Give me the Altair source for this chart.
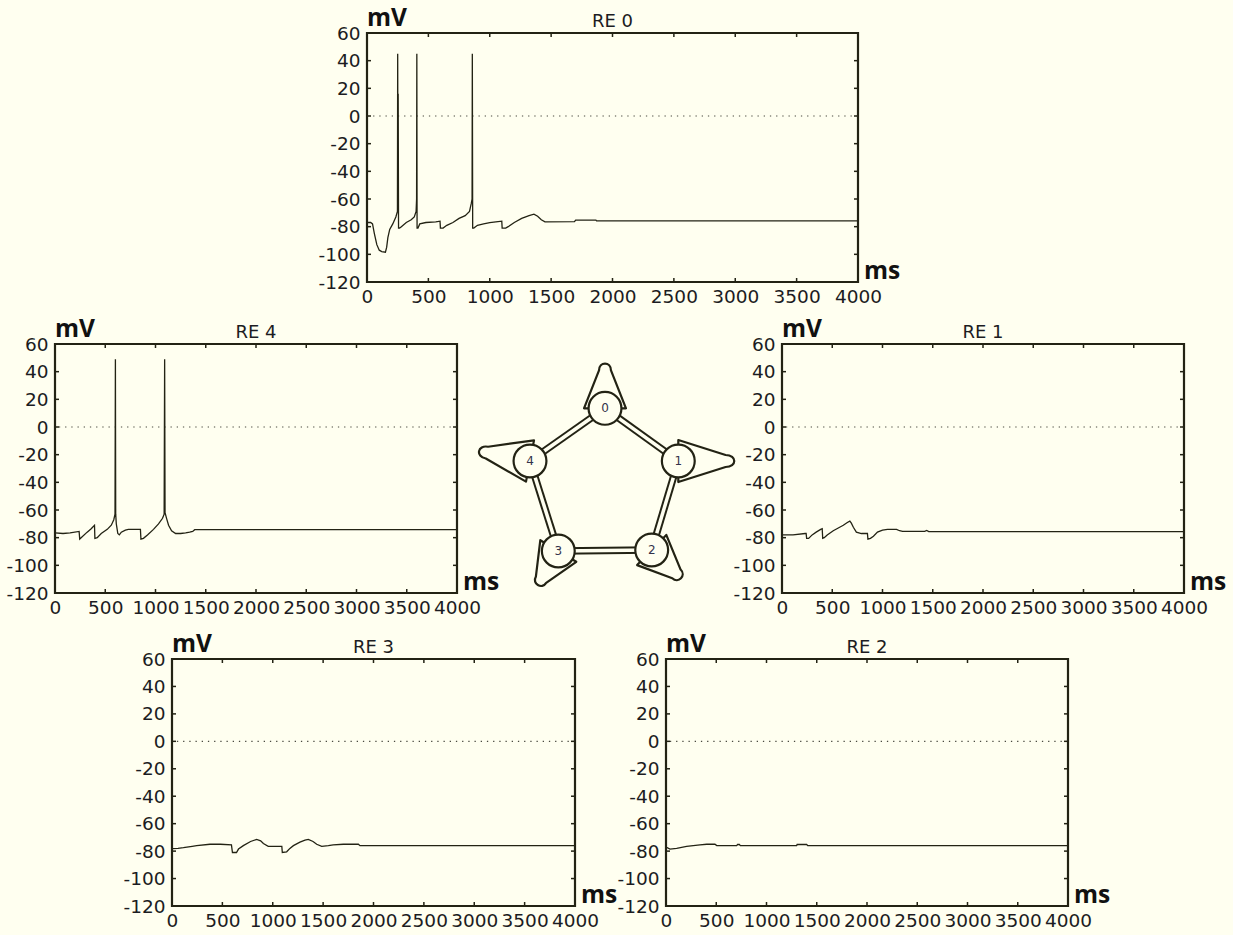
import altair as alt
import pandas as pd

BG = "#FFFFF0"
INK = "#232314"
TXT = "#1c1c22"

X_TICKS = [0, 500, 1000, 1500, 2000, 2500, 3000, 3500, 4000]
Y_TICKS = [60, 40, 20, 0, -20, -40, -60, -80, -100, -120]
Y_UNIT = "mV"
X_UNIT = "ms"

# ---- traces (time ms, membrane potential mV) ----
re0_t = [0, 30, 45, 60, 80, 100, 120, 150, 160, 170, 185, 210, 235, 248, 250, 252, 254, 257,
         265, 280, 320, 360, 385, 400, 404, 406, 408, 415, 430, 480, 560, 595, 598, 620, 650,
         700, 750, 800, 835, 850, 856, 858, 861, 870, 900, 950, 1000, 1050, 1098, 1101, 1130,
         1150, 1200, 1260, 1320, 1360, 1390, 1420, 1450, 1690, 1700, 1865, 1870, 4000]
re0_v = [-77, -77, -78, -85, -93, -97, -98, -98.5, -95, -88, -82, -78, -73, -69, 45, -40, 16, -81,
         -81, -80, -77, -75, -73, -69, -60, 45, -81, -81, -78, -77, -76.5, -76, -81, -81, -79,
         -77, -74, -72, -69, -63, -60, 45, -81, -81, -79, -78, -77, -76.5, -76, -81, -81,
         -80, -77, -74, -72, -71, -72.5, -75, -76.5, -76.4, -75.3, -75.3, -75.8, -75.8]

re4_t = [0, 80, 150, 240, 246, 260, 320, 360, 393, 397, 420, 460, 520, 560, 585, 597, 601, 604,
         610, 625, 640, 660, 700, 730, 850, 855, 880, 920, 980, 1030, 1070, 1086, 1091, 1095,
         1110, 1130, 1160, 1200, 1250, 1300, 1340, 1370, 1390, 4000]
re4_v = [-76.5, -77, -76.5, -75.5, -81, -80, -76, -73.5, -71, -80.5, -80, -77, -74, -71, -67, -63, 49, -63,
         -70, -77, -78, -76, -74.5, -74, -74, -81, -80.5, -78, -74, -70, -66, -63, 49, -62,
         -66, -71, -75, -77, -77, -76.5, -76, -75.5, -74.2, -74.2]

re1_t = [0, 110, 230, 240, 245, 265, 300, 340, 385, 400, 405, 420, 450, 510, 560, 610, 650, 675,
         690, 710, 740, 790, 850, 855, 880, 910, 950, 1000, 1050, 1140, 1170, 1200, 1420, 1440,
         1460, 4000]
re1_v = [-78, -78, -77, -77, -80.5, -80.5, -78, -76, -74, -73.5, -80.5, -80, -78, -75, -73, -71, -69, -68,
         -69.5, -72.5, -76, -77, -77, -81, -80.5, -79, -76, -74.5, -74, -74, -75, -75.5, -75.5, -74.8,
         -75.6, -75.6]

re3_t = [0, 60, 113, 200, 245, 377, 480, 590, 600, 640, 660, 708, 780, 840, 880, 907, 955, 1072,
         1090, 1095, 1138, 1170, 1205, 1270, 1320, 1353, 1400, 1436, 1486, 1552, 1600, 1700, 1850,
         1866, 4000]
re3_v = [-78.2, -78, -77.5, -76.5, -76, -75, -75, -75.5, -81, -81, -78.5, -76, -73, -71.5, -72.5, -74.5, -76.5, -76.5,
         -76.5, -81, -80.5, -78, -76, -73.5, -72, -71.5, -73, -75, -76.5, -76, -75.5, -75, -75,
         -76, -76]

re2_t = [0, 40, 106, 205, 338, 405, 487, 505, 703, 712, 730, 740, 1300, 1305, 1400, 1410, 4000]
re2_v = [-77, -78.5, -78, -76.5, -75.5, -75, -75, -76, -76, -75.2, -75.2, -76, -76, -75.2, -75.2, -76, -76]

PANEL_NAMES = ["RE 0", "RE 1", "RE 2", "RE 3", "RE 4"]

# ---- network diagram (pixel-like units inside its own frame) ----
node_ids = ["0", "1", "2", "3", "4"]
node_x = [148, 221.3, 194.7, 101.3, 73]
node_y = [64.3, 117, 206, 207, 117]
loop_angle = [0, 90, 134, 211, 281]
loop_len = [44, 55, 40, 39, 51]
edge_pairs = [(0, 1), (1, 2), (2, 3), (3, 4), (4, 0)]

LABEL_FONT = "DejaVu Sans"
BOLD_FONT = "Open Sans"
LABEL_SIZE = 18.5
UNIT_SIZE = 24.5


def loop_path(L, base=21.0, tip=6.0):
    """Self-loop drawn as a narrow wedge: wide at the node, rounded tip at distance L."""
    b = base / L
    c = tip / L
    return (f"M{-b:.3f},0 L{-c:.3f},-0.86 C{-c:.3f},-1.07 {c:.3f},-1.07 {c:.3f},-0.86 "
            f"L{b:.3f},0 Z")


def panel(name, t, v, w, h):
    xaxis = alt.Axis(values=X_TICKS, title=None, ticks=False, tickSize=0, domain=False, grid=False,
                     labelFont=LABEL_FONT, labelFontSize=LABEL_SIZE, labelColor=TXT, labelPadding=5,
                     labelFlush=False, labelOverlap=False, labelExpr="'' + datum.value")
    yaxis = alt.Axis(values=Y_TICKS, title=None, ticks=False, tickSize=0, domain=False, grid=False,
                     labelFont=LABEL_FONT, labelFontSize=LABEL_SIZE, labelColor=TXT, labelPadding=7,
                     labelOverlap=False, labelExpr="'' + datum.value")
    X = alt.X("t:Q", scale=alt.Scale(domain=[0, 4000], nice=False, zero=False), axis=xaxis)
    Y = alt.Y("v:Q", scale=alt.Scale(domain=[-120, 60], nice=False, zero=False), axis=yaxis)

    df = pd.DataFrame({"t": t, "v": v})
    line = alt.Chart(df).mark_line(color=INK, strokeWidth=1.3, clip=True).encode(x=X, y=Y)

    zero = alt.Chart(pd.DataFrame({"v": [0]})).mark_rule(
        color="#4a4a40", strokeWidth=1.2, strokeDash=[1.3, 4.9]).encode(y=Y)

    xt = pd.DataFrame({"t": X_TICKS[1:-1]})
    yt = pd.DataFrame({"v": Y_TICKS[1:-1]})
    tick_top = alt.Chart(xt).mark_rule(color=INK, strokeWidth=1.5).encode(
        x=X, y=alt.value(0), y2=alt.value(4))
    tick_bot = alt.Chart(xt).mark_rule(color=INK, strokeWidth=1.5).encode(
        x=X, y=alt.value(h), y2=alt.value(h - 4))
    tick_left = alt.Chart(yt).mark_rule(color=INK, strokeWidth=1.5).encode(
        y=Y, x=alt.value(0), x2=alt.value(4))
    tick_right = alt.Chart(yt).mark_rule(color=INK, strokeWidth=1.5).encode(
        y=Y, x=alt.value(w - 4), x2=alt.value(w))

    title = alt.Chart(pd.DataFrame({"s": [name]})).mark_text(
        align="center", baseline="alphabetic", font=LABEL_FONT, fontSize=18, color=TXT).encode(
        text="s:N", x=alt.value(w / 2), y=alt.value(-6))
    yunit = alt.Chart(pd.DataFrame({"s": [Y_UNIT]})).mark_text(
        align="left", baseline="alphabetic", font=BOLD_FONT, fontWeight="bold", fontSize=UNIT_SIZE,
        color="#111111").encode(text="s:N", x=alt.value(0), y=alt.value(-7))
    xunit = alt.Chart(pd.DataFrame({"s": [X_UNIT]})).mark_text(
        align="left", baseline="alphabetic", font=BOLD_FONT, fontWeight="bold", fontSize=UNIT_SIZE,
        color="#111111").encode(text="s:N", x=alt.value(w + 6), y=alt.value(h - 3))

    return alt.layer(zero, tick_top, tick_bot, tick_left, tick_right, line, title, yunit, xunit
                     ).properties(width=w, height=h)


def spacer(w, h):
    return alt.Chart(pd.DataFrame({"s": [0]})).mark_point(opacity=0).encode(
        x=alt.X("s:Q", axis=None), y=alt.Y("s:Q", axis=None)
    ).properties(width=w, height=h, view=alt.ViewBackground(stroke="transparent"))


def diagram(w, h):
    nodes = pd.DataFrame({"id": node_ids, "x": node_x, "y": node_y,
                          "angle": loop_angle, "len": loop_len})
    nodes["path"] = [loop_path(L) for L in loop_len]
    nodes["sz"] = [4 * L * L for L in loop_len]
    edges = pd.DataFrame({
        "x": [node_x[a] for a, b in edge_pairs], "y": [node_y[a] for a, b in edge_pairs],
        "x2": [node_x[b] for a, b in edge_pairs], "y2": [node_y[b] for a, b in edge_pairs]})
    X = alt.X("x:Q", scale=alt.Scale(domain=[0, w], nice=False, zero=False), axis=None)
    Y = alt.Y("y:Q", scale=alt.Scale(domain=[0, h], nice=False, zero=False, reverse=True), axis=None)

    e_outer = alt.Chart(edges).mark_rule(color=INK, strokeWidth=7.5, strokeCap="butt").encode(
        x=X, y=Y, x2="x2:Q", y2="y2:Q")
    e_inner = alt.Chart(edges).mark_rule(color=BG, strokeWidth=3.5, strokeCap="butt").encode(
        x=X, y=Y, x2="x2:Q", y2="y2:Q")
    loops = alt.Chart(nodes).mark_point(
        filled=False, stroke=INK, strokeWidth=2.2, opacity=1, strokeJoin="round").encode(
        x=X, y=Y,
        shape=alt.Shape("path:N", scale=None, legend=None),
        size=alt.Size("sz:Q", scale=None, legend=None),
        angle=alt.Angle("angle:Q", scale=None))
    circles = alt.Chart(nodes).mark_point(
        shape="circle", filled=True, fill=BG, stroke=INK, strokeWidth=2.2, size=1080, opacity=1
    ).encode(x=X, y=Y)
    labels = alt.Chart(nodes).mark_text(fontSize=12, font=LABEL_FONT, color="#33334a").encode(
        x=X, y=Y, text="id:N")
    return alt.layer(e_outer, e_inner, loops, circles, labels).properties(
        width=w, height=h, view=alt.ViewBackground(stroke="transparent"))


re0 = panel(PANEL_NAMES[0], re0_t, re0_v, 491, 249)
re1 = panel(PANEL_NAMES[1], re1_t, re1_v, 402, 249)
re2 = panel(PANEL_NAMES[2], re2_t, re2_v, 402, 247)
re3 = panel(PANEL_NAMES[3], re3_t, re3_v, 403, 247)
re4 = panel(PANEL_NAMES[4], re4_t, re4_v, 402, 249)

row1 = alt.hconcat(spacer(312, 249), re0, spacing=0, bounds="flush")
row2 = alt.hconcat(re4, diagram(325, 249), re1, spacing=0, bounds="flush")
row3 = alt.hconcat(spacer(117, 247), re3, spacer(91, 247), re2, spacing=0, bounds="flush")

inner = alt.vconcat(row2, row3, spacing=12)
chart = alt.vconcat(row1, inner, spacing=8).properties(
    background=BG,
    padding={"left": 4, "top": 4, "right": 5, "bottom": 5},
).configure_view(stroke=INK, strokeWidth=2.2)

chart.save("out.html", embed_options={"renderer": "svg", "actions": False})
